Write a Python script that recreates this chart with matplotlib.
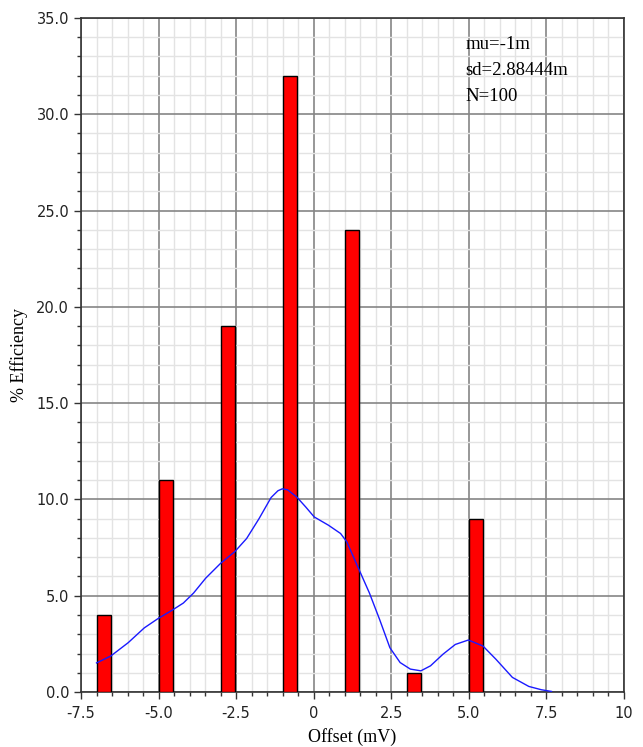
import matplotlib
matplotlib.use("Agg")
import matplotlib.pyplot as plt
from matplotlib.ticker import MultipleLocator, FixedLocator, FixedFormatter

# Histogram data (bin left edges, % efficiency)
bin_left = [-7.0, -5.0, -3.0, -1.0, 1.0, 3.0, 5.0]
counts = [4, 11, 19, 32, 24, 1, 9]
bar_width = 0.47

# Density curve
curve_x = [-7.0, -6.54, -5.98, -5.46, -5.02, -4.53, -4.2, -3.87, -3.48, -3.0,
           -2.54, -2.16, -1.76, -1.37, -1.15, -1.01, -0.84, -0.54, -0.25, 0.02, 0.48,
           0.87, 1.07, 1.47, 1.80, 2.13, 2.46, 2.79, 3.12, 3.46, 3.77,
           4.17, 4.57, 4.99, 5.46, 5.88, 6.41, 6.94, 7.34, 7.67]
curve_y = [1.51, 1.87, 2.56, 3.33, 3.81, 4.28, 4.62, 5.14, 5.91, 6.68,
           7.29, 7.97, 9.0, 10.1, 10.45, 10.55, 10.5, 10.12, 9.6, 9.09, 8.66,
           8.23, 7.8, 6.34, 5.14, 3.76, 2.3, 1.53, 1.19, 1.10, 1.36,
           1.96, 2.47, 2.70, 2.39, 1.70, 0.76, 0.29, 0.12, 0.03]

x_ticks = [-7.5, -5.0, -2.5, 0, 2.5, 5.0, 7.5, 10]
x_labels = ["-7.5", "-5.0", "-2.5", "0", "2.5", "5.0", "7.5", "10"]
y_ticks = [0, 5, 10, 15, 20, 25, 30, 35]
y_labels = ["0.0", "5.0", "10.0", "15.0", "20.0", "25.0", "30.0", "35.0"]
stats = ["mu=-1m", "sd=2.88444m", "N=100"]

fig = plt.figure(figsize=(6.43, 7.47), dpi=100)
ax = fig.add_axes([0.126, 0.0736, 0.844, 0.9024])

ax.set_xlim(-7.5, 10)
ax.set_ylim(0, 35)

ax.xaxis.set_major_locator(FixedLocator(x_ticks))
ax.xaxis.set_major_formatter(FixedFormatter(x_labels))
ax.yaxis.set_major_locator(FixedLocator(y_ticks))
ax.yaxis.set_major_formatter(FixedFormatter(y_labels))
ax.xaxis.set_minor_locator(MultipleLocator(0.5))
ax.yaxis.set_minor_locator(MultipleLocator(1))

ax.grid(which="minor", color="#e3e3e3", linewidth=1.0, zorder=0)
ax.grid(which="major", color="#858585", linewidth=1.2, zorder=0)
ax.set_axisbelow(True)

ax.bar(bin_left, counts, width=bar_width, align="edge", color="#ff0000",
       edgecolor="black", linewidth=1.0, zorder=3)
ax.plot(curve_x, curve_y, color="#1a1aff", linewidth=1.0, zorder=4,
        solid_joinstyle="round")

for s in ax.spines.values():
    s.set_color("#333333")
    s.set_linewidth(1.2)

ax.tick_params(which="major", direction="out", length=5, width=1, color="#333333",
               labelsize=10.5, labelcolor="#222222", top=False, right=False)
ax.tick_params(which="minor", direction="out", length=3, width=1, color="#333333",
               top=False, right=False)
ax.tick_params(axis="x", pad=5)

ax.set_xlabel("Offset (mV)", family="Liberation Serif", fontsize=13, labelpad=5)
ax.set_ylabel("% Efficiency", family="Liberation Serif", fontsize=13, labelpad=6)

for i, s in enumerate(stats):
    ax.text(4.9, 34.05 - i * 1.35, s, family="Liberation Serif", fontsize=13.5,
            va="top", ha="left", zorder=5)

fig.savefig("out.png", dpi=100)
